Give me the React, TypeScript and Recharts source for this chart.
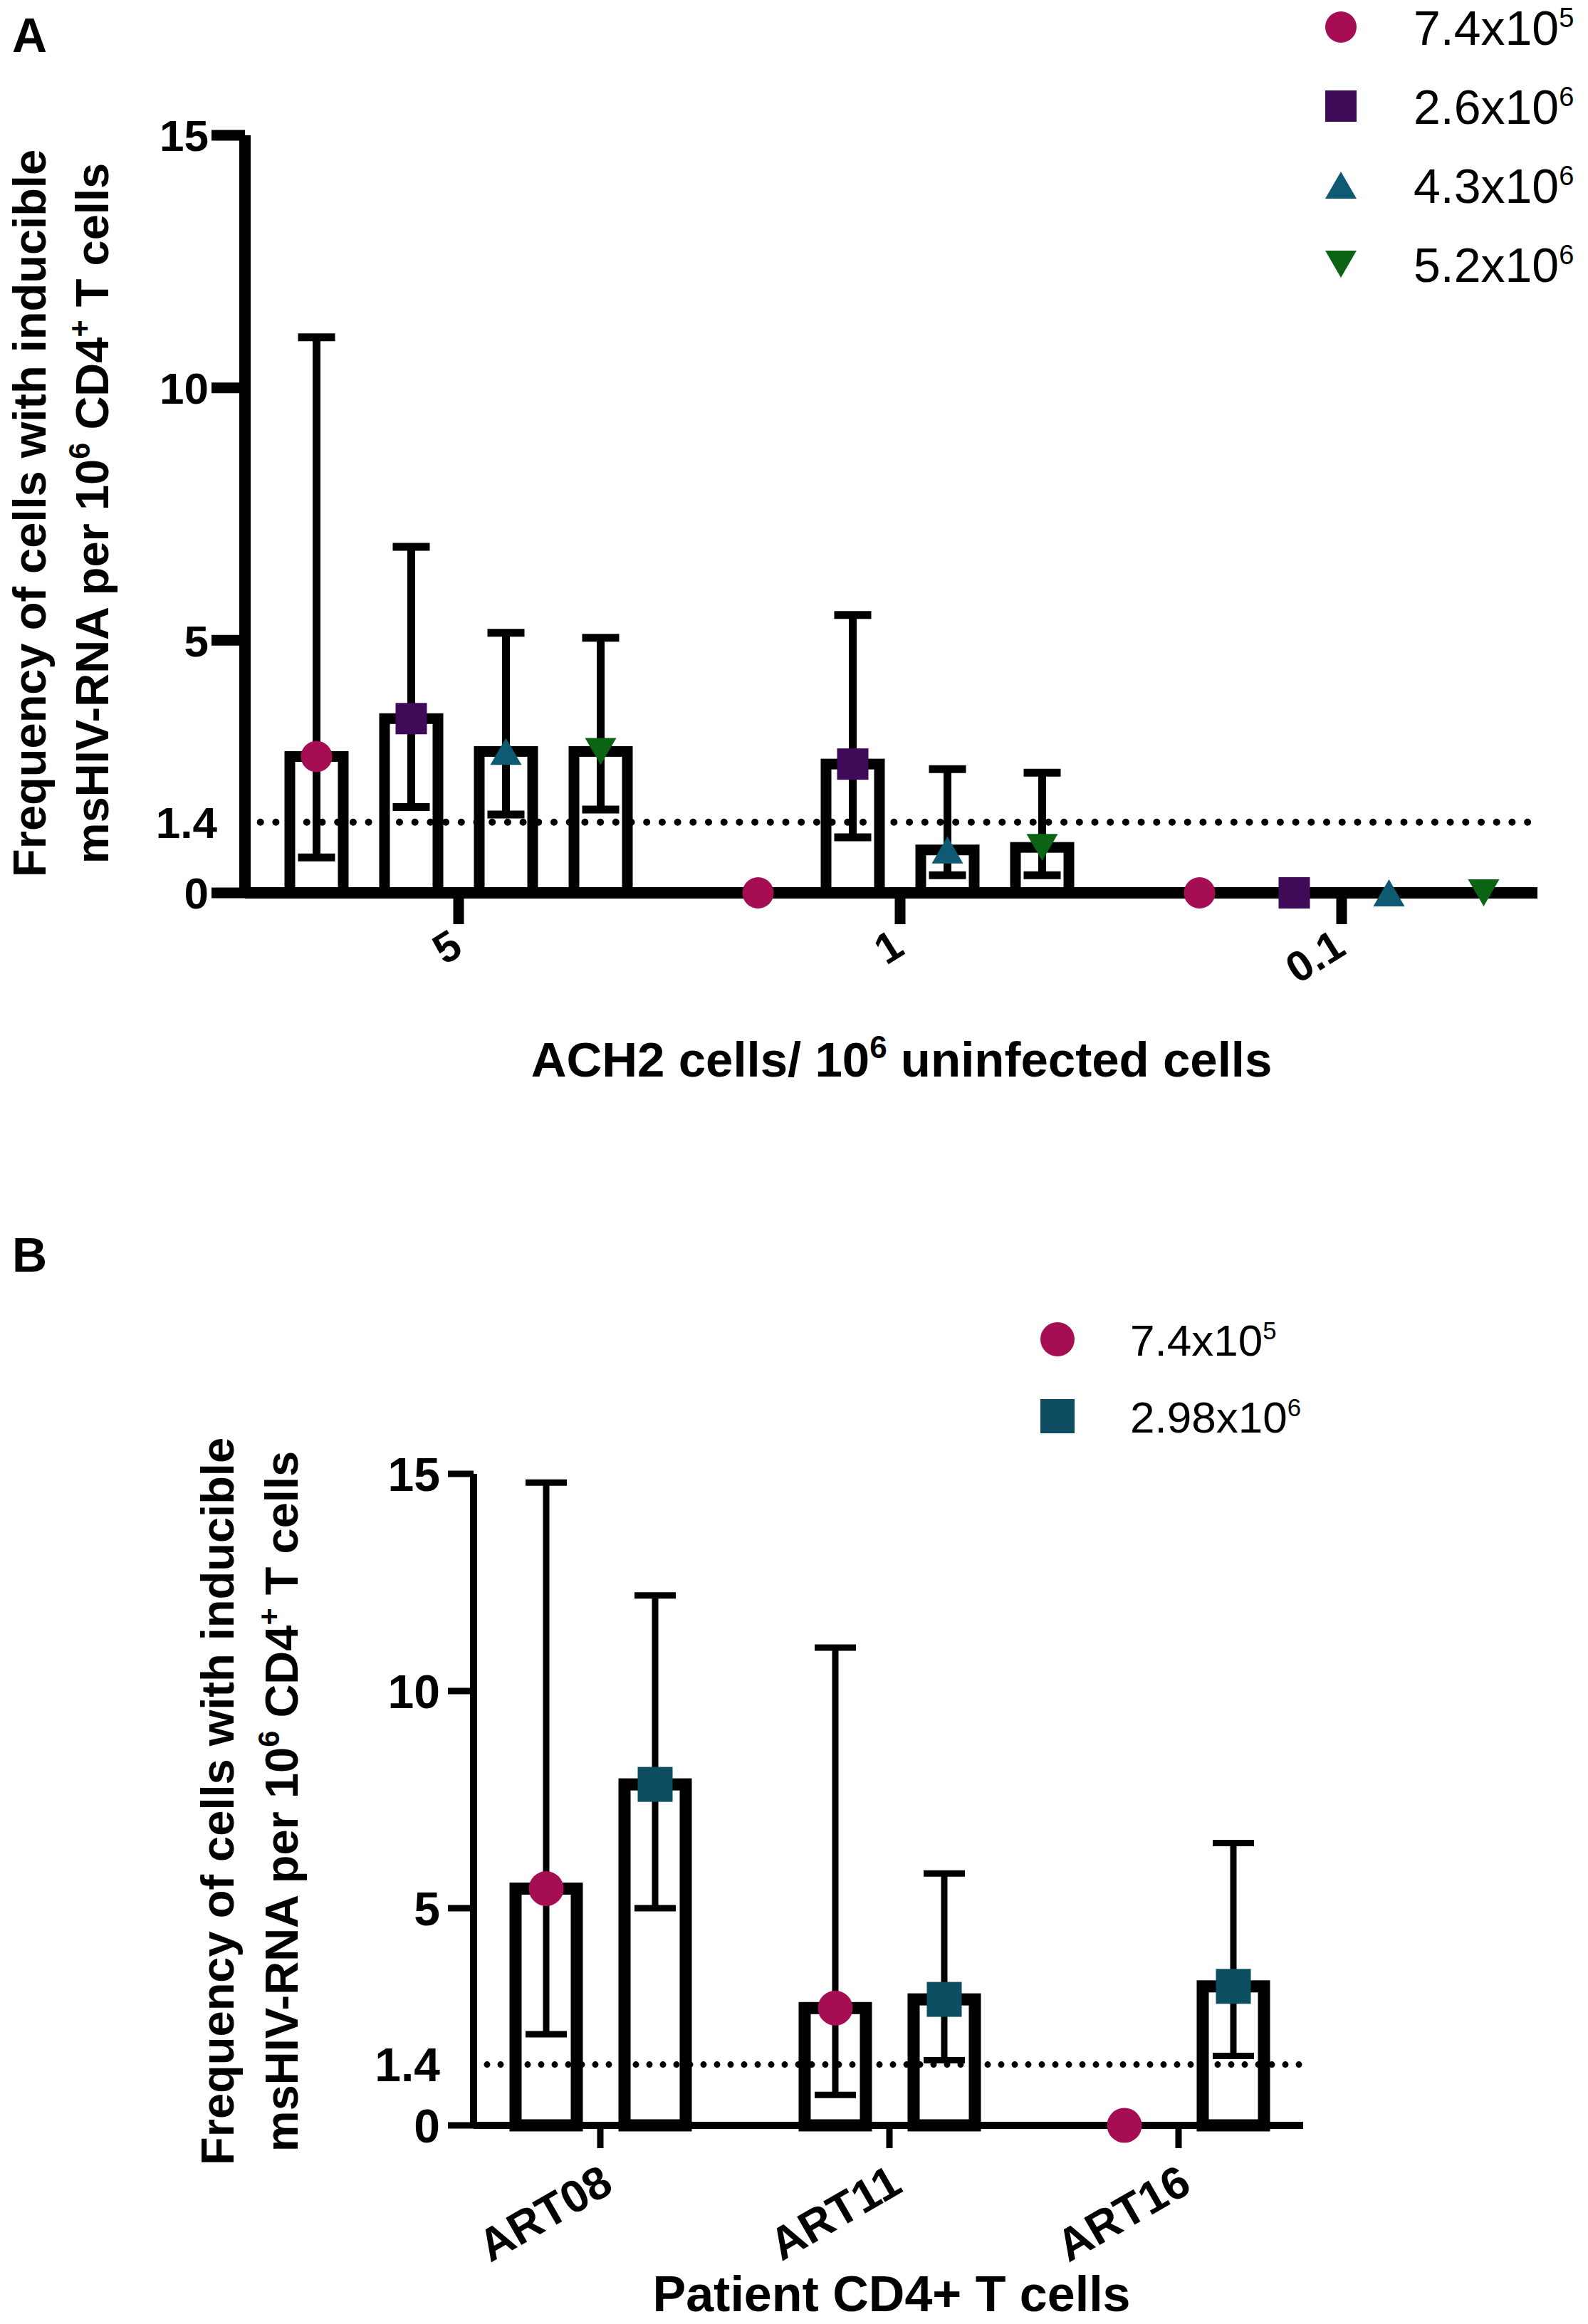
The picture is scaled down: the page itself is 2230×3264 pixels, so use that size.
import { Bar, BarChart, ErrorBar, LabelList, ReferenceLine, XAxis, YAxis } from 'recharts'

const FONT = '"Liberation Sans", Arial, Helvetica, sans-serif'

// Panel A: ACH2 dilutions, four input cell numbers
const DOSES = ['5', '1', '0.1']
const A_NAMES = ['7.4x10', '2.6x10', '4.3x10', '5.2x10']
const A_EXPS = ['5', '6', '6', '6']
const A_MEAN = [
  [2.7, 0, 0],
  [3.45, 2.55, 0],
  [2.8, 0.85, 0],
  [2.8, 0.9, 0],
]
const A_LOW = [
  [0.7, null, null],
  [1.7, 1.1, null],
  [1.55, 0.35, null],
  [1.65, 0.35, null],
]
const A_HIGH = [
  [11.0, null, null],
  [6.85, 5.5, null],
  [5.15, 2.45, null],
  [5.05, 2.38, null],
]

// Panel B: patient cells, two input cell numbers
const PATIENTS = ['ART08', 'ART11', 'ART16']
const B_NAMES = ['7.4x10', '2.98x10']
const B_EXPS = ['5', '6']
const B_MEAN = [
  [5.45, 2.7, 0],
  [7.85, 2.9, 3.2],
]
const B_LOW = [
  [2.1, 0.7, null],
  [5.0, 1.5, 1.6],
]
const B_HIGH = [
  [14.8, 11.0, null],
  [12.2, 5.8, 6.5],
]

const Y_TICKS = [0, 1.4, 5, 10, 15]
const LOD = 1.4

const A_MARKERS = [
  { kind: 'circle', color: '#a50e52' },
  { kind: 'square', color: '#3f0b59' },
  { kind: 'up', color: '#0d5a72' },
  { kind: 'down', color: '#0a6414' },
]
const B_MARKERS = [
  { kind: 'circle', color: '#a50e52' },
  { kind: 'square', color: '#0d4e62' },
]

function buildRows(cats: string[], mean: number[][], low: (number | null)[][], high: (number | null)[][]) {
  return cats.map((c, i) => {
    const row: Record<string, any> = { cat: c }
    mean.forEach((s, k) => {
      const v = s[i]
      const lo = low[k][i]
      const hi = high[k][i]
      row[`s${k}`] = v
      row[`e${k}`] = lo == null || hi == null ? null : [v - lo, hi - v]
    })
    return row
  })
}

const A_ROWS = buildRows(DOSES, A_MEAN, A_LOW, A_HIGH)
const B_ROWS = buildRows(PATIENTS, B_MEAN, B_LOW, B_HIGH)

function Marker({ kind, cx, cy, size, color }: { kind: string; cx: number; cy: number; size: number; color: string }) {
  const h = size / 2
  const t = h * 0.86
  if (kind === 'circle') return <circle cx={cx} cy={cy} r={h} fill={color} />
  if (kind === 'square') return <rect x={cx - h} y={cy - h} width={size} height={size} fill={color} />
  if (kind === 'up')
    return <polygon points={`${cx - h},${cy + t} ${cx + h},${cy + t} ${cx},${cy - t}`} fill={color} />
  return <polygon points={`${cx - h},${cy - t} ${cx + h},${cy - t} ${cx},${cy + t}`} fill={color} />
}

const openBar = (sw: number) => (p: any) =>
  p.height > 0 ? (
    <rect x={p.x} y={p.y} width={p.width} height={p.height} fill="none" stroke="#000" strokeWidth={sw} />
  ) : (
    <g />
  )

const markerLabel = (kind: string, color: string, size: number) => (p: any) => {
  const vb = p.viewBox ?? p
  if (vb == null || vb.x == null) return null
  return <Marker kind={kind} color={color} size={size} cx={vb.x + vb.width / 2} cy={vb.y} />
}

const yTick = (o: { fs: number; gap: number; len: number; lw: number; lodShift: number }) => (p: any) => {
  const v = p.payload.value
  const isLod = v === LOD
  return (
    <g>
      {!isLod && (
        <line x1={p.x + o.gap} x2={p.x + o.gap + o.len} y1={p.y} y2={p.y} stroke="#000" strokeWidth={o.lw} />
      )}
      <text
        x={p.x + (isLod ? o.lodShift : 0)}
        y={p.y}
        dy="0.36em"
        textAnchor="end"
        fontFamily={FONT}
        fontWeight="bold"
        fontSize={o.fs}
        fill="#000"
      >
        {v}
      </text>
    </g>
  )
}

const xTick = (o: { fs: number; angle: number; dx: number }) => (p: any) => {
  const tx = p.x + o.dx
  return (
    <text
      x={tx}
      y={p.y}
      dy="0.72em"
      textAnchor="end"
      transform={`rotate(${o.angle} ${tx} ${p.y})`}
      fontFamily={FONT}
      fontWeight="bold"
      fontSize={o.fs}
      fill="#000"
    >
      {p.payload.value}
    </text>
  )
}

function LegendRows({ names, exps, markers, x, tx, y0, step, size, fs }: any) {
  return (
    <g>
      {names.map((n: string, i: number) => {
        const cy = y0 + i * step
        return (
          <g key={n}>
            <Marker kind={markers[i].kind} color={markers[i].color} size={size} cx={x} cy={cy} />
            <text x={tx} y={cy + fs * 0.37} fontFamily={FONT} fontSize={fs} fill="#000">
              {n}
              <tspan dy={-fs * 0.37} fontSize={fs * 0.56}>
                {exps[i]}
              </tspan>
            </text>
          </g>
        )
      })}
    </g>
  )
}

function YTitle({ x1, x2, cy, fs }: { x1: number; x2: number; cy: number; fs: number }) {
  const sup = fs * 0.64
  return (
    <g fontFamily={FONT} fontWeight="bold" fontSize={fs} fill="#000">
      <text transform={`translate(${x1},${cy}) rotate(-90)`} textAnchor="middle">
        Frequency of cells with inducible
      </text>
      <text transform={`translate(${x2},${cy}) rotate(-90)`} textAnchor="middle">
        msHIV-RNA per 10
        <tspan dy={-fs * 0.4} fontSize={sup}>
          6
        </tspan>
        <tspan dy={fs * 0.4}> CD4</tspan>
        <tspan dy={-fs * 0.4} fontSize={sup}>
          +
        </tspan>
        <tspan dy={fs * 0.4}> T cells</tspan>
      </text>
    </g>
  )
}

function PanelA() {
  return (
    <BarChart
      width={2230}
      height={1560}
      data={A_ROWS}
      margin={{ top: 190, right: 71, bottom: 156, left: 144 }}
      barGap={58}
    >
      <XAxis
        dataKey="cat"
        interval={0}
        height={150}
        padding={{ left: -10, right: -35 }}
        axisLine={{ stroke: '#000', strokeWidth: 16 }}
        tickLine={{ stroke: '#000', strokeWidth: 15 }}
        tickSize={44}
        tickMargin={4}
        tick={xTick({ fs: 60, angle: -32, dx: -14 })}
      />
      <YAxis
        type="number"
        domain={[0, 15]}
        ticks={Y_TICKS}
        width={200}
        axisLine={{ stroke: '#000', strokeWidth: 16 }}
        tickLine={false}
        tickSize={47}
        tickMargin={4}
        tick={yTick({ fs: 62, gap: 4, len: 47, lw: 15, lodShift: 12 })}
      />
      {A_MARKERS.map((m, k) => (
        <Bar
          key={k}
          dataKey={`s${k}`}
          barSize={75}
          shape={openBar(15)}
          isAnimationActive={false}
        >
          <ErrorBar dataKey={`e${k}`} width={26} strokeWidth={11} stroke="#000" direction="y" />
          <LabelList dataKey={`s${k}`} content={markerLabel(m.kind, m.color, 44)} />
        </Bar>
      ))}
      <ReferenceLine
        y={LOD}
        stroke="#000"
        strokeWidth={10}
        strokeDasharray="0 21.7"
        strokeLinecap="round"
      />
    </BarChart>
  )
}

function PanelB() {
  return (
    <BarChart
      width={2230}
      height={1464}
      data={B_ROWS}
      margin={{ top: 270, right: 400, bottom: 129, left: 465 }}
      barGap={67}
    >
      <XAxis
        dataKey="cat"
        interval={0}
        height={150}
        padding={{ left: -25, right: -28 }}
        axisLine={{ stroke: '#000', strokeWidth: 10 }}
        tickLine={{ stroke: '#000', strokeWidth: 9 }}
        tickSize={32}
        tickMargin={20}
        tick={xTick({ fs: 64, angle: -30, dx: -2 })}
      />
      <YAxis
        type="number"
        domain={[0, 15]}
        ticks={Y_TICKS}
        width={200}
        axisLine={{ stroke: '#000', strokeWidth: 10 }}
        tickLine={false}
        tickSize={36}
        tickMargin={11}
        tick={yTick({ fs: 66, gap: 11, len: 36, lw: 9, lodShift: 0 })}
      />
      {B_MARKERS.map((m, k) => (
        <Bar
          key={k}
          dataKey={`s${k}`}
          barSize={86}
          shape={openBar(17)}
          isAnimationActive={false}
        >
          <ErrorBar dataKey={`e${k}`} width={29} strokeWidth={9} stroke="#000" direction="y" />
          <LabelList dataKey={`s${k}`} content={markerLabel(m.kind, m.color, 49)} />
        </Bar>
      ))}
      <ReferenceLine
        y={LOD}
        stroke="#000"
        strokeWidth={9}
        strokeDasharray="0 19"
        strokeLinecap="round"
      />
    </BarChart>
  )
}

export default function App() {
  return (
    <div style={{ position: 'relative', width: 2230, height: 3264, background: '#fff', overflow: 'hidden' }}>
      <style>{'body{margin:0}'}</style>
      <div style={{ position: 'absolute', left: 0, top: 0 }}>
        <PanelA />
      </div>
      <div style={{ position: 'absolute', left: 0, top: 1800 }}>
        <PanelB />
      </div>
      <svg
        width={2230}
        height={3264}
        style={{ position: 'absolute', left: 0, top: 0, pointerEvents: 'none' }}
      >
        <text x={17} y={73} fontFamily={FONT} fontWeight="bold" fontSize={68}>
          A
        </text>
        <YTitle x1={64} x2={152} cy={721} fs={65} />
        <text x={1266} y={1512} textAnchor="middle" fontFamily={FONT} fontWeight="bold" fontSize={69}>
          ACH2 cells/ 10
          <tspan dy={-26} fontSize={44}>
            6
          </tspan>
          <tspan dy={26}> uninfected cells</tspan>
        </text>
        <LegendRows
          names={A_NAMES}
          exps={A_EXPS}
          markers={A_MARKERS}
          x={1883}
          tx={1985}
          y0={38}
          step={111}
          size={44}
          fs={68}
        />

        <text x={17} y={1786} fontFamily={FONT} fontWeight="bold" fontSize={68}>
          B
        </text>
        <YTitle x1={328} x2={418} cy={2530} fs={65} />
        <text x={1252} y={3246} textAnchor="middle" fontFamily={FONT} fontWeight="bold" fontSize={70}>
          Patient CD4+ T cells
        </text>
        <LegendRows
          names={B_NAMES}
          exps={B_EXPS}
          markers={B_MARKERS}
          x={1485}
          tx={1587}
          y0={1881}
          step={108}
          size={48}
          fs={62}
        />
      </svg>
    </div>
  )
}
